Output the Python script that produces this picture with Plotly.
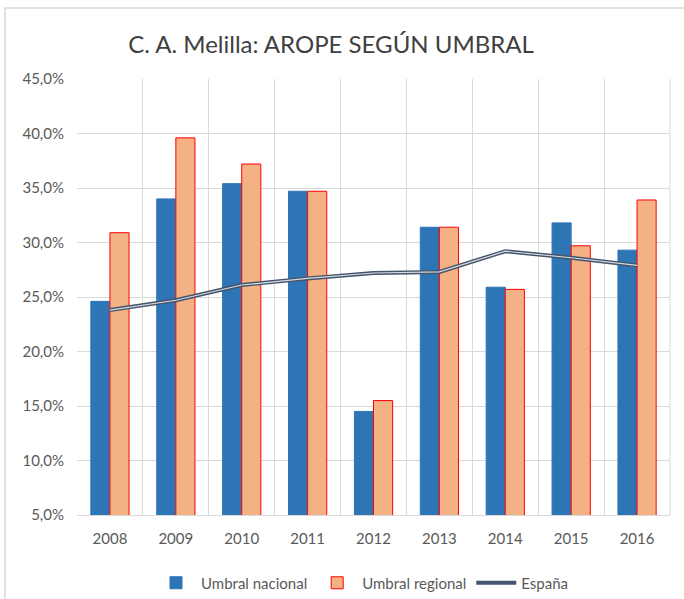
import plotly.graph_objects as go

years = ["2008", "2009", "2010", "2011", "2012", "2013", "2014", "2015", "2016"]
umbral_nacional = [24.6, 34.0, 35.4, 34.7, 14.5, 31.4, 25.9, 31.8, 29.3]
umbral_regional = [30.9, 39.6, 37.2, 34.7, 15.5, 31.4, 25.7, 29.7, 33.9]
espana = [23.8, 24.7, 26.1, 26.7, 27.2, 27.3, 29.2, 28.6, 27.9]

font_family = "Lato, 'Open Sans', sans-serif"
grey_text = "#595959"

fig = go.Figure()
fig.add_trace(go.Bar(
    x=years, y=umbral_nacional, name="Umbral nacional",
    marker=dict(color="#2E75B6", line=dict(color="#2E75B6", width=1)),
))
fig.add_trace(go.Bar(
    x=years, y=umbral_regional, name="Umbral regional",
    marker=dict(color="#F4B183", line=dict(color="#FF0000", width=1)),
))
fig.add_trace(go.Scatter(
    x=years, y=espana, name="España", mode="lines",
    line=dict(color="#44546A", width=4),
))
fig.add_trace(go.Scatter(
    x=years, y=espana, name="España", mode="lines", showlegend=False,
    line=dict(color="#D6DCE5", width=1.2), hoverinfo="skip",
))

W, H = 684, 599
ml, mr, mt, mb = 77, 14, 79, 84
pw, ph = W - ml - mr, H - mt - mb

def px_to_paper_x(px):
    return (px - ml) / pw

def px_to_paper_y(py):
    return (H - mb - py) / ph

fig.update_layout(
    width=W, height=H,
    margin=dict(l=ml, r=mr, t=mt, b=mb, autoexpand=False),
    paper_bgcolor="white", plot_bgcolor="white",
    barmode="group", bargap=0.42, bargroupgap=0,
    separators=",.",
    font=dict(family=font_family, color=grey_text, size=14),
    title=dict(
        text="C. A. Melilla: AROPE SEGÚN UMBRAL",
        x=331 / W, xanchor="center", y=1 - 45 / H, yanchor="middle",
        font=dict(size=24, color="#404040", family=font_family),
    ),
    xaxis=dict(
        type="category", tickson="boundaries", showgrid=True,
        gridcolor="#D9D9D9", gridwidth=1, ticks="",
        showline=True, linecolor="#D9D9D9", linewidth=1, mirror=False,
        tickfont=dict(size=15, color=grey_text), ticklabelstandoff=10,
    ),
    yaxis=dict(
        range=[5, 45], dtick=5, tick0=5, tickformat=".1f", ticksuffix="%",
        showgrid=True, gridcolor="#D9D9D9", gridwidth=1, zeroline=False,
        tickfont=dict(size=15, color=grey_text), ticks="", ticklabelstandoff=12,
    ),
    legend=dict(
        orientation="h", xref="container", x=362 / W, xanchor="center",
        yref="container", y=1 - 583 / H, yanchor="middle",
        font=dict(size=15, color=grey_text), traceorder="normal",
        itemwidth=40,
    ),
    shapes=[
        dict(type="rect", xref="paper", yref="paper",
             x0=px_to_paper_x(5), x1=px_to_paper_x(700),
             y0=px_to_paper_y(640), y1=px_to_paper_y(8),
             line=dict(color="#D9D9D9", width=1.5), fillcolor="rgba(0,0,0,0)",
             layer="below"),
        dict(type="line", xref="paper", yref="paper", x0=1, x1=1, y0=0, y1=1,
             line=dict(color="#D9D9D9", width=1)),
    ],
)

fig.write_html("out.html", config={"displayModeBar": False},
               post_script="document.body.style.margin='0';")
